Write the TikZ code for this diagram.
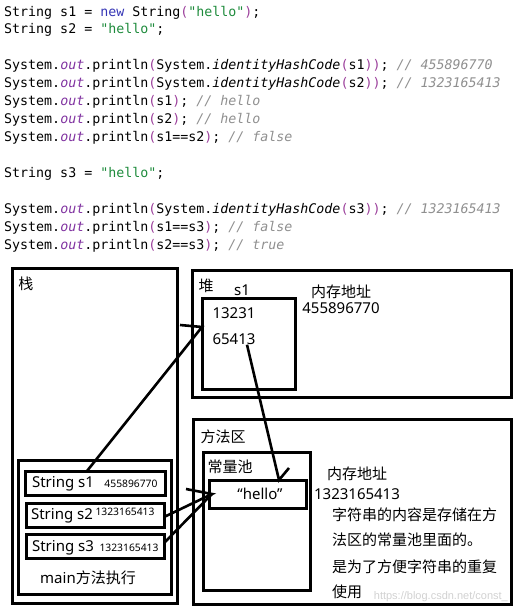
\documentclass[tikz,border=0pt]{standalone}
\usepackage{fontspec}
\newfontfamily\codefont{DejaVu Sans Mono}
\newfontfamily\cjk{Noto Sans CJK SC}
\newfontfamily\latin{Noto Sans}
\newfontfamily\wmfont{Liberation Sans}
\definecolor{kwblue}{HTML}{3535B5}
\definecolor{strgreen}{HTML}{1E8B3C}
\definecolor{fldpurple}{HTML}{8032A0}
\definecolor{parpurple}{HTML}{9B3F9B}
\definecolor{cmtgray}{HTML}{8F8F8F}
\newcommand\jkw[1]{\textcolor{kwblue}{#1}}
\newcommand\jstr[1]{\textcolor{strgreen}{#1}}
\newcommand\jfld[1]{\textcolor{fldpurple}{\textit{#1}}}
\newcommand\jpar[1]{\textcolor{parpurple}{#1}}
\newcommand\jcmt[1]{\textcolor{cmtgray}{\textit{#1}}}

\begin{document}
\begin{tikzpicture}[x=1pt,y=-1pt,
   box/.style={draw,line width=3pt,inner sep=0pt,outer sep=0pt,anchor=north west},
   wire/.style={line width=2.6pt},
   code/.style={anchor=base west,inner sep=0pt,font=\codefont\fontsize{13.3}{16}\selectfont},
   lbl/.style={inner sep=0pt,font=\cjk\fontsize{15}{18}\selectfont},
   num/.style={inner sep=0pt,font=\latin\fontsize{15}{18}\selectfont},
   small/.style={inner sep=0pt,font=\latin\fontsize{10.3}{12}\selectfont}]
\useasboundingbox (0,0) rectangle (520,614);
% source code
\node[code] (c1) at (4,16) {String s1 = \jkw{new} String\jpar{(}\jstr{"hello"}\jpar{)};};
\node[code] (c2) at (4,33) {String s2 = \jstr{"hello"};};
\node[code] (c3) at (4,69) {System.\jfld{out}.println\jpar{(}System.\textit{identityHashCode}\jpar{(}s1\jpar{))}; \jcmt{// 455896770}};
\node[code] (c4) at (4,87) {System.\jfld{out}.println\jpar{(}System.\textit{identityHashCode}\jpar{(}s2\jpar{))}; \jcmt{// 1323165413}};
\node[code] (c5) at (4,105) {System.\jfld{out}.println\jpar{(}s1\jpar{)}; \jcmt{// hello}};
\node[code] (c6) at (4,123) {System.\jfld{out}.println\jpar{(}s2\jpar{)}; \jcmt{// hello}};
\node[code] (c7) at (4,141) {System.\jfld{out}.println\jpar{(}s1==s2\jpar{)}; \jcmt{// false}};
\node[code] (c8) at (4,177) {String s3 = \jstr{"hello"};};
\node[code] (c9) at (4,213) {System.\jfld{out}.println\jpar{(}System.\textit{identityHashCode}\jpar{(}s3\jpar{))}; \jcmt{// 1323165413}};
\node[code] (c10) at (4,231) {System.\jfld{out}.println\jpar{(}s1==s3\jpar{)}; \jcmt{// false}};
\node[code] (c11) at (4,249) {System.\jfld{out}.println\jpar{(}s2==s3\jpar{)}; \jcmt{// true}};

% stack
\node[box,minimum width=165pt,minimum height=335pt] (stack) at (12,268) {};
\node[lbl] (stacklbl) at (26,284) {栈};
\node[box,minimum width=153pt,minimum height=134pt] (mainbox) at (18,460) {};
\node[box,minimum width=140pt,minimum height=24pt] (s1box) at (25,471) {};
\node[box,minimum width=138pt,minimum height=24pt] (s2box) at (26,503) {};
\node[box,minimum width=138pt,minimum height=24pt] (s3box) at (26,534) {};
\node[num] (s1txt) at (63,484) {String s1};
\node[small] (s1adr) at (131,484) {455896770};
\node[num] (s2txt) at (62,516) {String s2};
\node[small] (s2adr) at (125,512) {1323165413};
\node[num] (s3txt) at (63,548) {String s3};
\node[small] (s3adr) at (129,548) {1323165413};
\node[lbl] (mainlbl) at (88,578) {{\latin main}方法执行};

% heap
\node[box,minimum width=319pt,minimum height=127pt] (heap) at (192,270) {};
\node[lbl] (heaplbl) at (206,286) {堆};
\node[num] (objname) at (242,290) {s1};
\node[box,minimum width=93pt,minimum height=91pt] (obj) at (202,298) {};
\node[num] (num1) at (234,313) {13231};
\node[num] (num2) at (234,339) {65413};
\node[lbl] (adr1lbl) at (341,292) {内存地址};
\node[num] (adr1) at (341,308) {455896770};

% method area
\node[box,minimum width=318pt,minimum height=185pt] (method) at (193,419) {};
\node[lbl] (methodlbl) at (223,437) {方法区};
\node[box,minimum width=107pt,minimum height=138pt] (pool) at (203,452) {};
\node[lbl] (poollbl) at (230,467) {常量池};
\node[box,minimum width=97pt,minimum height=28pt] (hellobox) at (209,480) {};
\node[num] (hellotxt) at (260,494) {“hello”};
\node[lbl] (adr2lbl) at (357,474) {内存地址};
\node[num] (adr2) at (357,494) {1323165413};
\node[lbl,anchor=base west] (p1) at (332,520) {字符串的内容是存储在方};
\node[lbl,anchor=base west] (p2) at (332,545) {法区的常量池里面的。};
\node[lbl,anchor=base west] (p3) at (332,572) {是为了方便字符串的重复};
\node[lbl,anchor=base west] (p4) at (332,597) {使用};
\node[inner sep=0pt,anchor=east,text=black!18,font=\wmfont\fontsize{11}{13}\selectfont] (mark) at (508,597) {https://blog.csdn.net/const\_};

% references
\draw[wire] ([xshift=-8pt]s1box.north) -- ([yshift=16.5pt]obj.west) -- ++(-22,-2);
\draw[wire] ([xshift=13pt]num2.south) -- ([xshift=21.5pt]hellobox.north) -- ++(10,-12);
\draw[wire] ([yshift=-2pt]s2box.east) -- ([xshift=3pt]hellobox.west) -- ++(-26,-5);
\draw[wire] ([yshift=3pt]s3box.east) -- ([xshift=3pt]hellobox.west);
\end{tikzpicture}
\end{document}
